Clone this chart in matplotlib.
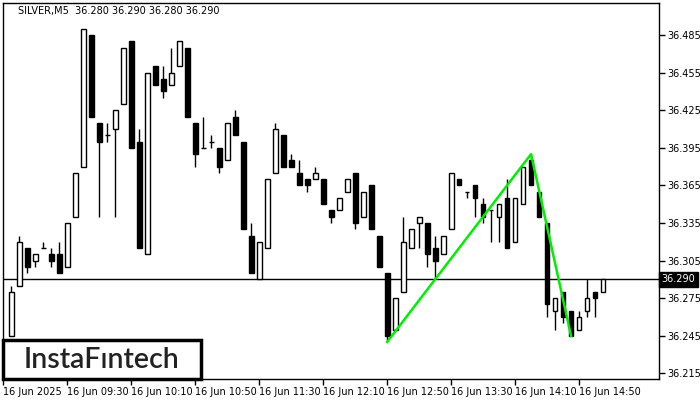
import numpy as np
import pandas as pd
import matplotlib
matplotlib.use('Agg')
import matplotlib.pyplot as plt
from matplotlib.patches import Rectangle

# SILVER M5 candles, 16 Jun 2025 from 08:55
opens = [36.245, 36.285, 36.315, 36.305, 36.315, 36.310, 36.310, 36.300, 36.340, 36.380,
         36.485, 36.415, 36.405, 36.410, 36.430, 36.480, 36.400, 36.310, 36.460, 36.450,
         36.445, 36.460, 36.475, 36.415, 36.395, 36.400, 36.395, 36.385, 36.420, 36.400,
         36.325, 36.290, 36.315, 36.375, 36.405, 36.385, 36.375, 36.370, 36.370, 36.370,
         36.345, 36.345, 36.360, 36.375, 36.340, 36.365, 36.325, 36.295, 36.250, 36.280,
         36.315, 36.335, 36.335, 36.315, 36.310, 36.330, 36.370, 36.360, 36.365, 36.350,
         36.345, 36.340, 36.355, 36.320, 36.350, 36.385, 36.360, 36.335, 36.265, 36.280,
         36.265, 36.250, 36.265, 36.280, 36.280]
highs = [36.285, 36.325, 36.315, 36.310, 36.320, 36.315, 36.320, 36.335, 36.375, 36.490,
         36.485, 36.415, 36.415, 36.425, 36.475, 36.480, 36.410, 36.455, 36.460, 36.460,
         36.475, 36.480, 36.475, 36.415, 36.420, 36.405, 36.395, 36.415, 36.425, 36.400,
         36.335, 36.320, 36.370, 36.415, 36.405, 36.390, 36.385, 36.370, 36.380, 36.370,
         36.345, 36.355, 36.370, 36.375, 36.360, 36.365, 36.325, 36.295, 36.275, 36.340,
         36.330, 36.340, 36.335, 36.325, 36.325, 36.375, 36.370, 36.360, 36.365, 36.355,
         36.345, 36.350, 36.370, 36.355, 36.380, 36.390, 36.360, 36.335, 36.275, 36.280,
         36.265, 36.265, 36.290, 36.280, 36.290]
lows = [36.245, 36.285, 36.295, 36.300, 36.315, 36.300, 36.295, 36.300, 36.340, 36.380,
        36.420, 36.340, 36.400, 36.340, 36.430, 36.395, 36.315, 36.310, 36.445, 36.435,
        36.445, 36.460, 36.420, 36.380, 36.395, 36.395, 36.375, 36.385, 36.405, 36.330,
        36.295, 36.290, 36.315, 36.375, 36.380, 36.380, 36.365, 36.360, 36.370, 36.350,
        36.335, 36.345, 36.360, 36.330, 36.340, 36.330, 36.300, 36.240, 36.250, 36.280,
        36.315, 36.315, 36.300, 36.290, 36.310, 36.330, 36.365, 36.355, 36.340, 36.335,
        36.320, 36.320, 36.315, 36.320, 36.350, 36.365, 36.340, 36.260, 36.250, 36.255,
        36.245, 36.250, 36.260, 36.260, 36.280]
closes = [36.280, 36.320, 36.300, 36.310, 36.315, 36.305, 36.295, 36.335, 36.375, 36.490,
          36.420, 36.400, 36.405, 36.425, 36.475, 36.395, 36.315, 36.455, 36.445, 36.440,
          36.455, 36.480, 36.420, 36.390, 36.395, 36.400, 36.380, 36.415, 36.405, 36.330,
          36.295, 36.320, 36.370, 36.410, 36.380, 36.380, 36.365, 36.365, 36.375, 36.350,
          36.340, 36.355, 36.370, 36.335, 36.360, 36.330, 36.300, 36.245, 36.275, 36.320,
          36.330, 36.340, 36.310, 36.305, 36.325, 36.375, 36.365, 36.360, 36.355, 36.340,
          36.345, 36.350, 36.315, 36.355, 36.380, 36.365, 36.340, 36.270, 36.275, 36.260,
          36.245, 36.260, 36.275, 36.275, 36.290]

# pattern line: bottom -> top -> bottom (candle index, price)
pattern_idx = [47, 65, 70]
pattern_px = [36.240, 36.390, 36.245]

last_price = 36.290
y_ticks = [36.485, 36.455, 36.425, 36.395, 36.365, 36.335, 36.305, 36.275, 36.245, 36.215]
x_tick_times = ['08:50', '09:30', '10:10', '10:50', '11:30', '12:10', '12:50', '13:30', '14:10', '14:50']

times = pd.date_range('2025-06-16 08:55', periods=len(opens), freq='5min')
t0 = times[0]
x = np.arange(len(opens))
o = np.array(opens)
h = np.array(highs)
l = np.array(lows)
c = np.array(closes)

fig = plt.figure(figsize=(7, 4), dpi=100)
ax = fig.add_axes([3 / 700, 21 / 400, 656 / 700, 376.5 / 400])

# wicks
ax.vlines(x, l, h, color='black', linewidth=1)

# bodies
w = 0.6
up = c > o
dn = c < o
eq = c == o
ax.bar(x[up], (c - o)[up], bottom=o[up], width=w, facecolor='white', edgecolor='black', linewidth=1, zorder=3)
ax.bar(x[dn], (o - c)[dn], bottom=c[dn], width=w, facecolor='black', edgecolor='black', linewidth=1, zorder=3)
ax.hlines(o[eq], x[eq] - w / 2, x[eq] + w / 2, color='black', linewidth=1, zorder=3)

ax.axhline(last_price, color='black', linewidth=1, zorder=2)

ax.plot(pattern_idx, pattern_px, color='#00ee00', linewidth=1.8, zorder=4)

ax.set_xlim(-1.04, 81)
ax.set_ylim(36.2105, 36.511)

# axes ticks
ax.yaxis.tick_right()
ax.set_yticks(y_ticks)
ax.set_yticklabels(['%.3f' % v for v in y_ticks], fontsize=7)
tick_pos = []
tick_lbl = []
for i, t in enumerate(x_tick_times):
    tt = pd.Timestamp('2025-06-16 ' + t)
    tick_pos.append((tt - t0) / pd.Timedelta('5min'))
    tick_lbl.append('16 Jun 2025' if i == 0 else '16 Jun ' + t)
ax.set_xticks(tick_pos)
ax.set_xticklabels(tick_lbl, fontsize=7, ha='left')
ax.tick_params(axis='both', length=4, width=1, direction='out', pad=2)
for s in ax.spines.values():
    s.set_linewidth(1)

# title
ax.text(0.023, 0.977, 'SILVER,M5  36.280 36.290 36.280 36.290', transform=ax.transAxes,
        fontsize=7, va='center', ha='left')

# last price label
ax.text(1.004, last_price, '%.3f' % last_price, transform=ax.get_yaxis_transform(),
        fontsize=7, color='white', va='center', ha='left', clip_on=False,
        bbox=dict(boxstyle='square,pad=0.25', facecolor='black', edgecolor='black'))

# logo
fig.patches.append(Rectangle((3 / 700, 21 / 400), 198 / 700, 39 / 400, transform=fig.transFigure,
                             facecolor='white', edgecolor='black', linewidth=2.5, zorder=10))
fig.text(101.5 / 700, 40.5 / 400, 'InstaF\u0131ntech', fontsize=20.5, family='Lato', fontweight='semibold',
         color='#222222', ha='center', va='center', zorder=11)

fig.savefig('out.png', dpi=100)
